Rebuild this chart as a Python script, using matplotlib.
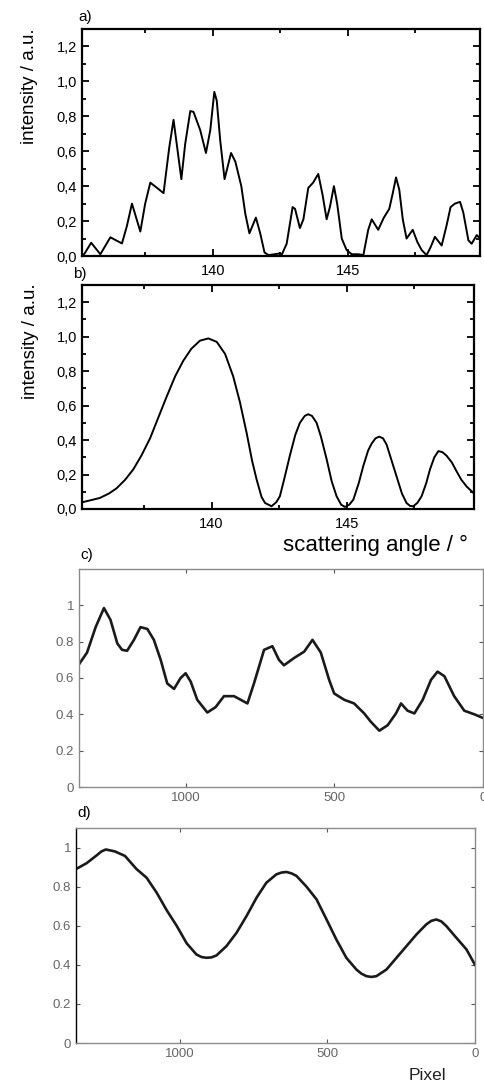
import matplotlib
matplotlib.use("Agg")
import matplotlib.pyplot as plt
import numpy as np
from matplotlib.ticker import MultipleLocator, FuncFormatter

plt.rcParams['font.family'] = ['Liberation Sans', 'DejaVu Sans']

# a) measured scattering pattern (angle in deg, intensity)
a_angle = [135.15, 135.25, 135.49, 135.83, 136.20, 136.63, 136.81, 137.00, 137.31, 137.49,
           137.68, 137.93, 138.17, 138.38, 138.54, 138.83, 138.97, 139.16, 139.28, 139.53,
           139.74, 139.90, 140.05, 140.14, 140.27, 140.43, 140.67, 140.83, 141.05, 141.20,
           141.35, 141.59, 141.75, 141.91, 142.06, 142.49, 142.54, 142.73, 142.95, 143.04,
           143.22, 143.35, 143.53, 143.71, 143.90, 144.06, 144.21, 144.33, 144.48, 144.60,
           144.77, 144.95, 145.14, 145.38, 145.57, 145.75, 145.88, 146.12, 146.33, 146.53,
           146.66, 146.78, 146.90, 147.03, 147.17, 147.40, 147.57, 147.73, 147.91, 148.06,
           148.22, 148.47, 148.66, 148.80, 148.96, 149.15, 149.27, 149.46, 149.58, 149.77, 149.89]
a_int = [0.0, 0.015, 0.076, 0.01, 0.107, 0.072, 0.17, 0.30, 0.14, 0.30,
         0.42, 0.39, 0.36, 0.62, 0.78, 0.44, 0.64, 0.83, 0.825, 0.72,
         0.59, 0.72, 0.94, 0.89, 0.66, 0.44, 0.59, 0.54, 0.40, 0.24,
         0.13, 0.22, 0.13, 0.02, 0.005, 0.015, 0.005, 0.07, 0.28, 0.27,
         0.16, 0.21, 0.39, 0.42, 0.47, 0.35, 0.21, 0.28, 0.40, 0.30,
         0.10, 0.034, 0.01, 0.01, 0.005, 0.15, 0.21, 0.15, 0.22, 0.27,
         0.36, 0.45, 0.38, 0.21, 0.10, 0.15, 0.08, 0.034, 0.005, 0.05,
         0.11, 0.06, 0.18, 0.28, 0.30, 0.31, 0.25, 0.09, 0.07, 0.12, 0.10]

# b) calculated scattering pattern
b_angle = [135.20, 135.50, 135.86, 136.20, 136.48, 136.80, 137.10, 137.40, 137.72, 138.00,
           138.33, 138.65, 138.95, 139.25, 139.57, 139.88, 140.19, 140.50, 140.80, 141.05,
           141.30, 141.50, 141.67, 141.85, 141.98, 142.22, 142.40, 142.53, 142.70, 142.90,
           143.10, 143.27, 143.45, 143.58, 143.72, 143.89, 144.05, 144.26, 144.45, 144.63,
           144.80, 144.94, 145.10, 145.25, 145.45, 145.62, 145.80, 145.93, 146.07, 146.21,
           146.35, 146.48, 146.65, 146.85, 147.05, 147.22, 147.35, 147.47, 147.62, 147.78,
           147.95, 148.09, 148.25, 148.40, 148.55, 148.70, 148.90, 149.07, 149.25, 149.45, 149.72]
b_int = [0.039, 0.05, 0.064, 0.09, 0.12, 0.17, 0.23, 0.31, 0.41, 0.52,
         0.65, 0.77, 0.86, 0.93, 0.977, 0.99, 0.97, 0.90, 0.77, 0.62,
         0.44, 0.28, 0.17, 0.07, 0.035, 0.016, 0.04, 0.074, 0.18, 0.31,
         0.43, 0.50, 0.54, 0.55, 0.54, 0.50, 0.42, 0.29, 0.16, 0.074,
         0.025, 0.012, 0.025, 0.054, 0.15, 0.25, 0.34, 0.38, 0.41, 0.42,
         0.41, 0.375, 0.29, 0.19, 0.09, 0.035, 0.018, 0.016, 0.035, 0.074,
         0.15, 0.23, 0.30, 0.336, 0.33, 0.31, 0.27, 0.22, 0.17, 0.13, 0.09]

# c) measured camera profile (pixel, normalized intensity)
c_pix = [1358, 1333, 1304, 1276, 1254, 1231, 1215, 1198, 1175, 1153, 1130, 1108,
         1085, 1063, 1040, 1018, 1001, 984, 962, 928, 900, 872, 838, 793, 771,
         737, 709, 687, 670, 636, 602, 574, 546, 518, 501, 467, 434, 400, 378,
         349, 321, 293, 276, 254, 231, 203, 175, 153, 130, 97, 63, 29, 0]
c_int = [0.68, 0.74, 0.88, 0.985, 0.92, 0.79, 0.755, 0.75, 0.81, 0.88, 0.87, 0.81,
         0.70, 0.57, 0.54, 0.60, 0.626, 0.58, 0.48, 0.41, 0.44, 0.50, 0.50, 0.46, 0.57,
         0.755, 0.775, 0.70, 0.67, 0.71, 0.745, 0.81, 0.74, 0.59, 0.515, 0.48, 0.46, 0.405, 0.36,
         0.31, 0.34, 0.405, 0.46, 0.42, 0.405, 0.48, 0.59, 0.635, 0.61, 0.50, 0.42, 0.40, 0.38]

# d) calculated camera profile
d_pix = [1352, 1316, 1282, 1266, 1251, 1235, 1220, 1186, 1147, 1113, 1079, 1045, 1011, 977,
         944, 927, 910, 893, 876, 842, 808, 774, 740, 707, 673, 656, 639, 622, 605, 571, 537, 503,
         470, 436, 402, 385, 368, 351, 334, 300, 266, 232, 198, 165, 148, 131, 114, 97, 63, 29, 0]
d_int = [0.89, 0.92, 0.96, 0.98, 0.99, 0.985, 0.98, 0.957, 0.89, 0.846, 0.77, 0.68, 0.60, 0.51,
         0.453, 0.44, 0.436, 0.438, 0.448, 0.496, 0.564, 0.65, 0.744, 0.82, 0.863, 0.872, 0.875, 0.868, 0.855,
         0.80, 0.735, 0.632, 0.53, 0.436, 0.376, 0.355, 0.342, 0.338, 0.342, 0.376, 0.436, 0.496, 0.556,
         0.607, 0.625, 0.632, 0.622, 0.598, 0.538, 0.479, 0.40]

fig = plt.figure(figsize=(4.84, 10.84), dpi=100)
W, H = 484.0, 1084.0


def box(l, r, t, b):
    return [l / W, 1 - b / H, (r - l) / W, (b - t) / H]


comma = FuncFormatter(lambda v, p: ("%.1f" % v).replace('.', ','))


def style_ab(ax):
    ax.set_xlim(135.15, 149.89)
    ax.set_ylim(0, 1.3)
    ax.xaxis.set_major_locator(MultipleLocator(5))
    ax.xaxis.set_minor_locator(MultipleLocator(2.5))
    ax.yaxis.set_major_locator(MultipleLocator(0.2))
    ax.yaxis.set_minor_locator(MultipleLocator(0.1))
    ax.yaxis.set_major_formatter(comma)
    for s in ax.spines.values():
        s.set_linewidth(1.6)
    ax.tick_params(which='both', direction='in', top=True, right=True, width=1.3, labelsize=10.5)
    ax.tick_params(which='major', length=5)
    ax.tick_params(which='minor', length=3)
    ax.tick_params(axis='x', pad=6)
    ax.set_ylabel("intensity / a.u.", fontsize=13.5)
    ax.yaxis.set_label_coords(-0.11, 0.75)


ax1 = fig.add_axes(box(82, 480, 29, 256))
ax1.plot(a_angle, a_int, color='black', lw=1.4, solid_joinstyle='round')
style_ab(ax1)

ax2 = fig.add_axes(box(82, 474, 285, 509))
ax2.plot(b_angle, b_int, color='black', lw=1.4, solid_joinstyle='round')
style_ab(ax2)
ax2.set_xlim(135.2, 149.72)


def style_cd(ax, ytop):
    ax.set_xlim(1360, 0)
    ax.set_ylim(0, ytop)
    ax.set_xticks([1000, 500, 0])
    ax.set_yticks([0, 0.2, 0.4, 0.6, 0.8, 1.0])
    ax.set_yticklabels(['0', '0.2', '0.4', '0.6', '0.8', '1'])
    for s in ax.spines.values():
        s.set_linewidth(1.0)
        s.set_color('#8a8a8a')
    ax.tick_params(which='both', direction='in', top=True, right=True, length=3,
                   color='#555555', labelcolor='#666666', labelsize=9.5)


ax3 = fig.add_axes(box(79, 483, 569, 787))
ax3.plot(c_pix, c_int, color='#1a1a1a', lw=1.9, solid_joinstyle='round')
style_cd(ax3, 1.2)

ax4 = fig.add_axes(box(76, 475, 828, 1043))
ax4.plot(d_pix, d_int, color='#1a1a1a', lw=1.9, solid_joinstyle='round')
style_cd(ax4, 1.1)
ax4.set_xlim(1352, 0)
ax4.spines['left'].set_color('black')

fig.text(283 / W, 1 - 545 / H, "scattering angle / °", fontsize=16, va='center', ha='left')
fig.text(427 / W, 1 - 1075 / H, "Pixel", fontsize=12.5, va='center', ha='center', color='#222222')

fig.text(78 / W, 1 - 17 / H, "a)", fontsize=11, va='center')
fig.text(73 / W, 1 - 274 / H, "b)", fontsize=11, va='center')
fig.text(80 / W, 1 - 555 / H, "c)", fontsize=11, va='center')
fig.text(77 / W, 1 - 813 / H, "d)", fontsize=11, va='center')

fig.savefig("out.png", dpi=100)
